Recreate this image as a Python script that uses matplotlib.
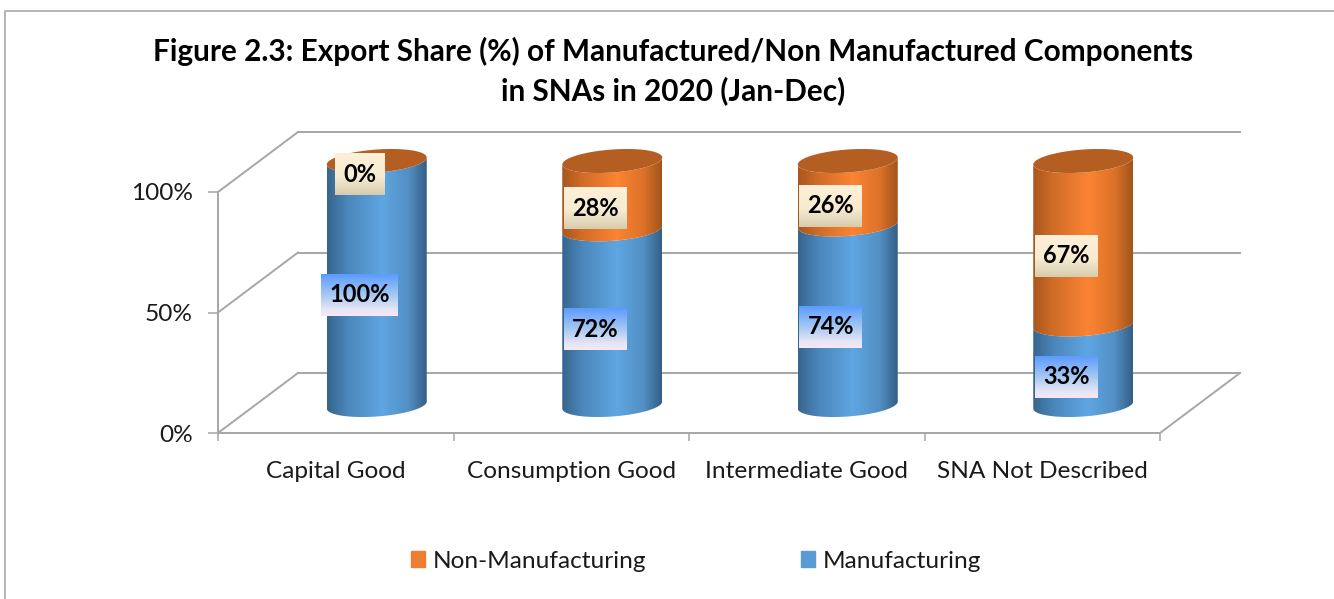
import numpy as np
import matplotlib
matplotlib.use('Agg')
import matplotlib.pyplot as plt
from matplotlib.colors import LinearSegmentedColormap
from matplotlib.lines import Line2D
from matplotlib.patches import Patch, Polygon

categories = ['Capital Good', 'Consumption Good', 'Intermediate Good', 'SNA Not Described']
manufacturing = [100, 72, 74, 33]
non_manufacturing = [0, 28, 26, 67]
y_ticks = [0, 50, 100]
y_tick_labels = ['0%', '50%', '100%']
title = 'Figure 2.3: Export Share (%) of Manufactured/Non Manufactured Components\nin SNAs in 2020 (Jan-Dec)'

plt.rcParams['font.family'] = ['Lato', 'DejaVu Sans']

W, H = 1334, 599
GRID = '#a6a6a6'
CAT_PX = 942 / 4
VAL_PX = 241 / 100

fig = plt.figure(figsize=(W / 100, H / 100), dpi=100)
ax = fig.add_axes([218 / W, (H - 433) / H, 942 / W, 241 / H])

blue_map = LinearSegmentedColormap.from_list('b', [(0, '#38658e'), (0.2, '#4a86ba'), (0.55, '#5fa6e2'), (0.82, '#528fc4'), (1, '#355f86')])
orange_map = LinearSegmentedColormap.from_list('o', [(0, '#a8571f'), (0.2, '#d06c28'), (0.55, '#fc8433'), (0.82, '#dc7229'), (1, '#a2541d')])
blue_label = LinearSegmentedColormap.from_list('bl', [(0, '#5c9cff'), (0.5, '#a6c8f2'), (0.85, '#e6e6f6'), (1, '#f8e8f4')])
orange_label = LinearSegmentedColormap.from_list('ol', [(0, '#fdf0d8'), (0.55, '#f7ebd0'), (0.85, '#e2d8bc'), (1, '#d6cbab')])

# depth of the floor/walls in data units
depth_x = 80 / CAT_PX
depth_y = 60 / VAL_PX

# back wall and side wall lines
for v in y_ticks:
    ax.plot([-0.5, -0.5 + depth_x], [v, v + depth_y], color=GRID, lw=1.4, clip_on=False, zorder=1)
    ax.plot([-0.5 + depth_x, 3.5 + depth_x], [v + depth_y, v + depth_y], color=GRID, lw=1.4, clip_on=False, zorder=1)
ax.plot([3.5, 3.5 + depth_x], [0, depth_y], color=GRID, lw=1.4, clip_on=False, zorder=1)

# cylinders stand half way into the floor
cyl_dx = 41 / CAT_PX
cyl_base = 28 / VAL_PX
cyl_scale = 244 / 241
rx = 50 / CAT_PX
ry = 11.5 / VAL_PX
tilt = 3.5 / VAL_PX


def arc(cx, cy, t0, t1):
    t = np.linspace(t0, t1, 60)
    return np.column_stack([cx + rx * np.cos(t), cy + tilt * np.cos(t) + ry * np.sin(t)])


def body(cx, v0, v1, cmap, z):
    y0 = cyl_base + v0 * cyl_scale
    y1 = cyl_base + v1 * cyl_scale
    verts = np.vstack([arc(cx, y1, np.pi, 2 * np.pi), arc(cx, y0, 2 * np.pi, np.pi)])
    im = ax.imshow(np.linspace(0, 1, 200).reshape(1, -1), cmap=cmap, aspect='auto', zorder=z,
                   extent=[cx - rx, cx + rx, y0 - 20, y1 + 20], interpolation='bilinear')
    im.set_clip_path(Polygon(verts, transform=ax.transData))
    im.set_clip_box(fig.bbox)


def value_label(cx, mid, val, cmap, off):
    txt = str(val) + '%'
    bw = {2: 50, 3: 63, 4: 77}[len(txt)] / CAT_PX
    lx = cx - 17 / CAT_PX
    ly = cyl_base + mid * cyl_scale - off / VAL_PX
    bh = 42 / VAL_PX
    ax.imshow(np.linspace(0, 1, 100).reshape(-1, 1), cmap=cmap, aspect='auto', zorder=5, origin='upper',
              extent=[lx - bw / 2, lx + bw / 2, ly - bh / 2, ly + bh / 2], clip_on=False, interpolation='bilinear')
    ax.text(lx, ly, txt, ha='center', va='center', fontsize=17, fontweight='bold', color='black', zorder=6)


for i in range(len(categories)):
    cx = i + cyl_dx
    m = manufacturing[i]
    n = non_manufacturing[i]
    body(cx, 0, m, blue_map, 3)
    if n > 0:
        body(cx, m, m + n, orange_map, 3.5)
    top = np.vstack([arc(cx, cyl_base + (m + n) * cyl_scale, 0, 2 * np.pi)])
    ax.add_patch(Polygon(top, closed=True, facecolor='#b55e22', edgecolor='none', zorder=4, clip_on=False))
    value_label(cx, m / 2, m, blue_label, 12)
    value_label(cx, m + n / 2, n, orange_label, 13)

ax.set_xlim(-0.5, 3.5)
ax.set_ylim(0, 100)
ax.set_yticks(y_ticks)
ax.set_yticklabels(y_tick_labels, fontsize=17.6, color='#1a1a1a')
ax.set_xticks(range(len(categories)))
ax.set_xticklabels(categories, fontsize=17.6, color='#1a1a1a')
ax.set_xticks(np.arange(-0.5, 4), minor=True)
ax.tick_params(axis='x', which='major', length=0, pad=20.5)
ax.tick_params(axis='x', which='minor', length=6, width=1.1, color=GRID)
ax.tick_params(axis='y', length=7, width=1.1, color=GRID, pad=11)
for s in ['top', 'right']:
    ax.spines[s].set_visible(False)
for s in ['left', 'bottom']:
    ax.spines[s].set_color(GRID)
    ax.spines[s].set_linewidth(1.4)
ax.patch.set_alpha(0)

fig.text(673 / W, 1 - 71 / H, title, ha='center', va='center', fontsize=21.4, fontweight='bold',
         color='black', linespacing=1.4)

handles = [Patch(color='#ed7d31', label='Non-Manufacturing'), Patch(color='#5b9bd5', label='Manufacturing')]
fig.legend(handles=handles, loc='center', bbox_to_anchor=(696 / W, 1 - 561 / H), ncol=2, frameon=False,
           fontsize=17.6, handlelength=0.57, handleheight=0.6, handletextpad=0.3, columnspacing=6.35,
           labelcolor='#1a1a1a')

# outer chart border
fig.add_artist(Line2D([5 / W, 5 / W, 1], [0, 1 - 11 / H, 1 - 11 / H], color='#b0b0b0', lw=1.3))

fig.savefig('out.png', dpi=100)
